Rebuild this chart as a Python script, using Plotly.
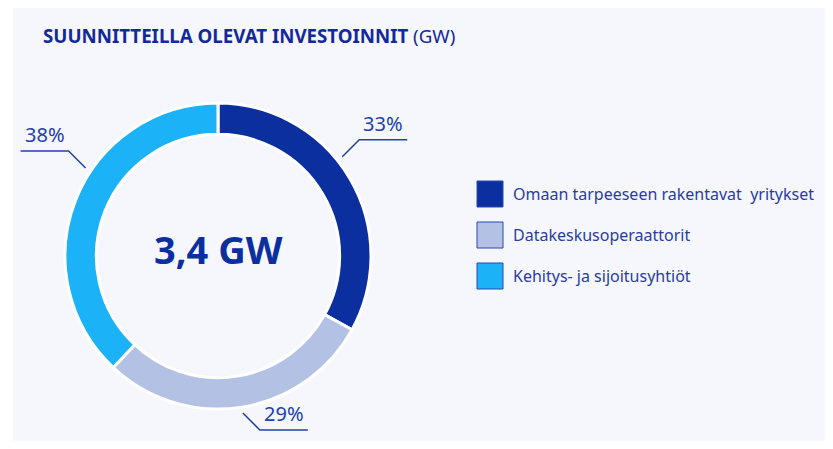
import math
import plotly.graph_objects as go

# data
categories = ["Omaan tarpeeseen rakentavat\u00a0 yritykset", "Datakeskusoperaattorit", "Kehitys- ja sijoitusyhtiöt"]
shares = [33, 29, 38]
total_label = "3,4 GW"
title_main = "SUUNNITTEILLA OLEVAT INVESTOINNIT"
title_unit = "(GW)"

# styles
colors = ["#0b2f9f", "#b3c2e4", "#1cb2f8"]
navy = "#13299b"
label_color = "#2240ad"
panel = "#f5f7fc"
label_nudge_deg = [-8, 0, 12]   # where the leader lines leave the ring, relative to slice middle

# page has an 8px body margin, so the figure is placed at (8, 8)
OFF = 8
W, H = 833 - 2 * OFF, 449 - 2 * OFF
cx, cy, R = 218, 256, 153


def px(x):
    return (x - OFF) / W


def py(y):
    return 1 - (y - OFF) / H


fig = go.Figure(go.Pie(
    labels=categories,
    values=shares,
    hole=0.795,
    sort=False,
    direction='clockwise',
    rotation=0,
    marker=dict(colors=colors, line=dict(color='white', width=3)),
    textinfo='none',
    hoverinfo='label+percent',
    showlegend=False,
    domain=dict(x=[px(cx - R), px(cx + R)], y=[py(cy + R), py(cy - R)])
))

shapes = [dict(type='rect', xref='paper', yref='paper', x0=px(13), x1=1, y0=0, y1=1,
               fillcolor=panel, line=dict(width=0), layer='below')]
annotations = []

# percentage labels with leader lines
total = sum(shares)
cum = 0
for v, nudge in zip(shares, label_nudge_deg):
    mid = math.radians((cum + v / 2) / total * 360 + nudge)
    cum += v
    sx, sy = math.sin(mid), -math.cos(mid)
    x0, y0 = cx + (R + 6) * sx, cy + (R + 6) * sy
    hx = 1 if sx >= 0 else -1
    vy = 1 if sy >= 0 else -1
    ex, ey = x0 + 17 * hx, y0 + 17 * vy
    ux = ex + 48 * hx
    shapes.append(dict(
        type='path', xref='paper', yref='paper',
        path=f"M {px(x0)} {py(y0)} L {px(ex)} {py(ey)} L {px(ux)} {py(ey)}",
        line=dict(color=label_color, width=1.5)
    ))
    annotations.append(dict(
        x=px((ex + ux) / 2), y=py(ey - 1), xref='paper', yref='paper',
        xanchor='center', yanchor='bottom', showarrow=False,
        text=f"{round(v / total * 100)}%",
        font=dict(family='Noto Sans', size=20, color=label_color)
    ))

# centre text
annotations.append(dict(
    x=px(cx), y=py(249), xref='paper', yref='paper', showarrow=False,
    xanchor='center', yanchor='middle', text=f"<b>{total_label}</b>",
    font=dict(family='Noto Sans', size=38, color=colors[0])
))

# title
annotations.append(dict(
    x=px(41), y=py(35), xref='paper', yref='paper', showarrow=False,
    xanchor='left', yanchor='middle',
    text=f"<b>{title_main}</b> {title_unit}",
    font=dict(family='Noto Sans', size=18.7, color=navy)
))

# legend
for i, (name, c) in enumerate(zip(categories, colors)):
    yc = 194 + 41 * i
    shapes.append(dict(type='rect', xref='paper', yref='paper',
                       x0=px(477), x1=px(503), y0=py(yc + 13), y1=py(yc - 13),
                       fillcolor=c, line=dict(color='#2a48b0', width=1)))
    annotations.append(dict(
        x=px(511), y=py(yc), xref='paper', yref='paper', showarrow=False,
        xanchor='left', yanchor='middle', text=name,
        font=dict(family='Noto Sans', size=16, color='#2a3d9e')
    ))

fig.update_layout(
    width=W, height=H,
    margin=dict(l=0, r=0, t=0, b=0),
    paper_bgcolor='white',
    plot_bgcolor='white',
    shapes=shapes,
    annotations=annotations,
    showlegend=False
)

fig.write_html("out.html")
